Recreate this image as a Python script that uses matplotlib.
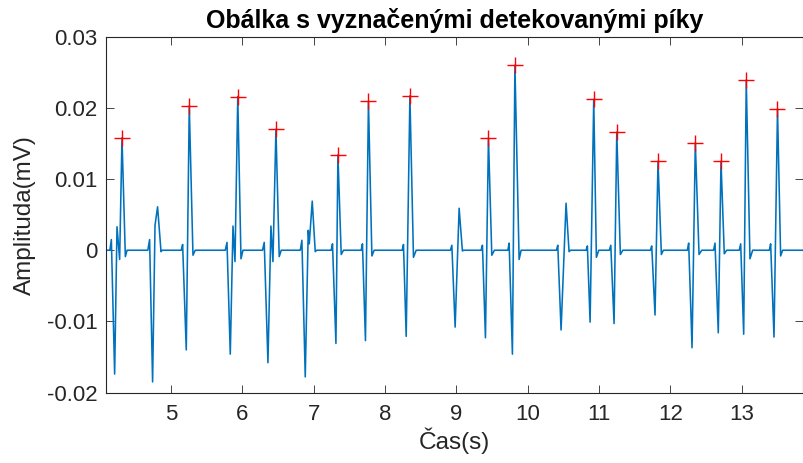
import numpy as np
import matplotlib
matplotlib.use("Agg")
import matplotlib.pyplot as plt

plt.rcParams['font.family'] = ['Liberation Sans', 'DejaVu Sans']

# envelope vertices (without the detected peaks), time in s, amplitude in mV
krivka_t = [4.085, 4.143, 4.164, 4.210, 4.243, 4.280, 4.360, 4.384,
            4.675, 4.700, 4.742, 4.776, 4.812, 4.860, 4.878,
            5.144, 5.163, 5.214, 5.308, 5.340,
            5.761, 5.785, 5.831, 5.869, 5.897, 5.981, 6.009,
            6.283, 6.307, 6.359, 6.401, 6.429, 6.517, 6.545,
            6.812, 6.835, 6.882, 6.924, 6.938, 6.980, 7.022, 7.043,
            7.246, 7.264, 7.312, 7.386, 7.418,
            7.666, 7.684, 7.726, 7.816, 7.848,
            8.241, 8.259, 8.297, 8.399, 8.437,
            8.917, 8.937, 8.983, 9.039, 9.085, 9.102,
            9.347, 9.366, 9.408, 9.497, 9.534,
            9.722, 9.740, 9.786, 9.880, 9.908,
            10.403, 10.422, 10.468, 10.538, 10.580, 10.601,
            10.819, 10.837, 10.875, 10.963, 10.997,
            11.145, 11.165, 11.211, 11.299, 11.333,
            11.720, 11.739, 11.785, 11.874, 11.902,
            12.238, 12.257, 12.304, 12.402, 12.440,
            12.606, 12.626, 12.672, 12.756, 12.790,
            12.966, 12.986, 13.028, 13.116, 13.154,
            13.387, 13.406, 13.453, 13.546, 13.574, 13.860]
krivka_v = [0, 0, 0.0015, -0.0174, 0.0033, -0.0013, -0.0009, 0,
            0, 0.0015, -0.0185, 0.0035, 0.0061, -0.0002, 0,
            0, 0.0008, -0.0140, -0.0007, 0,
            0, 0.0011, -0.0146, 0.0034, -0.0016, -0.0012, 0,
            0, 0.0011, -0.0158, 0.0034, -0.0016, -0.0009, 0,
            0, 0.0014, -0.0178, 0.0028, 0.0009, 0.0069, -0.0002, 0,
            0, 0.0009, -0.0131, -0.0006, 0,
            0, 0.0009, -0.0127, -0.0008, 0,
            0, 0.0008, -0.0121, -0.0010, 0,
            0, 0.0007, -0.0108, 0.0059, -0.0001, 0,
            0, 0.0007, -0.0123, -0.0007, 0,
            0, 0.0010, -0.0146, -0.0013, 0,
            0, 0.0007, -0.0112, 0.0066, -0.0002, 0,
            0, 0.0006, -0.0101, -0.0010, 0,
            0, 0.0007, -0.0103, -0.0006, 0,
            0, 0.0006, -0.0091, -0.0006, 0,
            0, 0.0010, -0.0137, -0.0006, 0,
            0, 0.0010, -0.0116, -0.0005, 0,
            0, 0.0009, -0.0118, -0.0012, 0,
            0, 0.0009, -0.0122, -0.0008, 0, 0]

# detected peaks
pik_t = [4.313, 5.256, 5.936, 6.471, 7.340, 7.768, 8.349, 9.450,
         9.821, 10.926, 11.249, 11.827, 12.350, 12.710, 13.064, 13.502]
pik_v = [0.0158, 0.0203, 0.0216, 0.0170, 0.0134, 0.0209, 0.0217, 0.0158,
         0.0260, 0.0212, 0.0166, 0.0125, 0.0151, 0.0125, 0.0239, 0.0198]

x_ticks = [5, 6, 7, 8, 9, 10, 11, 12, 13]
y_ticks = [-0.02, -0.01, 0, 0.01, 0.02, 0.03]
y_labels = ['-0.02', '-0.01', '0', '0.01', '0.02', '0.03']

# peaks are part of the envelope itself
t = np.concatenate([krivka_t, pik_t])
v = np.concatenate([krivka_v, pik_v])
order = np.argsort(t, kind='stable')

fig = plt.figure(figsize=(8.04, 4.63), dpi=100)
ax = fig.add_axes([0.1315, 0.1521, 0.8673, 0.7686])

ax.plot(t[order], v[order], color='#0072BD', lw=1.15)
ax.plot(pik_t, pik_v, '+', color='#FF0000', ms=11, mew=1.0)

ax.set_xlim(4.085, 13.86)
ax.set_ylim(-0.02, 0.03)
ax.set_xticks(x_ticks)
ax.set_xticklabels([str(x) for x in x_ticks])
ax.set_yticks(y_ticks)
ax.set_yticklabels(y_labels)

ax.tick_params(axis='both', direction='in', length=6, width=0.6,
               colors='#262626', labelsize=16, top=True, right=True)
ax.tick_params(axis='x', pad=8)
ax.tick_params(axis='y', pad=6)
for s in ax.spines.values():
    s.set_color('#262626')
    s.set_linewidth(0.8)

ax.set_title('Obálka s vyznačenými detekovanými píky', fontsize=18,
             fontweight='bold', color='black', pad=6)
ax.set_xlabel('Čas(s)', fontsize=17.5, color='#262626', labelpad=2)
ax.set_ylabel('Amplituda(mV)', fontsize=17.5, color='#262626', labelpad=8)

plt.savefig('out.png', dpi=100)
